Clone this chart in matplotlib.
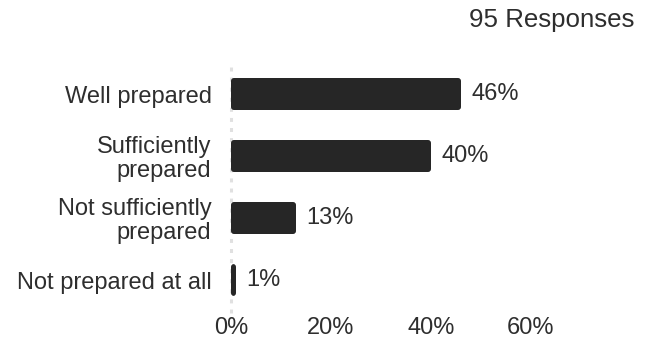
import matplotlib
matplotlib.use("Agg")
import matplotlib.pyplot as plt
from matplotlib.patches import FancyBboxPatch

categories = ["Well prepared", "Sufficiently\nprepared", "Not sufficiently\nprepared", "Not prepared at all"]
values = [46, 40, 13, 1]
xticks = [0, 20, 40, 60]
xtick_labels = ["0%", "20%", "40%", "60%"]
title = "95 Responses"

plt.rcParams['font.family'] = ['Liberation Sans', 'DejaVu Sans']
W, H = 652, 340
fig = plt.figure(figsize=(W/100, H/100), dpi=100)
ax = fig.add_axes([231/W, 1-311/H, 300/W, 248/H])

txt = "#2e2e2e"
ypos = list(range(len(categories)))
bars = ax.barh(ypos, values, height=0.516, color="#262626", zorder=3)
ax.set_ylim(len(categories)-0.5, -0.5)
ax.set_xlim(0, 60)

# rounded bar corners, built from the bar geometry
px_x = 60 / 300.0
px_y = 4.0 / 248.0
for b in bars:
    b.set_visible(False)
    p = FancyBboxPatch((b.get_x(), b.get_y()), b.get_width(), b.get_height(),
                       boxstyle=f"round,pad=0,rounding_size={3*px_x}",
                       mutation_aspect=px_y/px_x, facecolor="#262626",
                       edgecolor="none", zorder=3)
    ax.add_patch(p)

ax.set_yticks(ypos)
ax.set_yticklabels(categories, fontsize=17, color=txt, linespacing=1.1)
ax.set_xticks(xticks)
ax.set_xticklabels(xtick_labels, fontsize=17, color=txt)
ax.tick_params(axis='y', length=0, pad=14)
ax.tick_params(axis='x', length=0, pad=4)
for s in ax.spines.values():
    s.set_visible(False)
ax.axvline(0, ymin=-0.01, ymax=1.01, clip_on=False, color="#e0e0e0",
           linewidth=2.2, linestyle=(0, (1.3, 2.0)), zorder=1)
ax.bar_label(bars, labels=[f"{v}%" for v in values], padding=7.5, fontsize=17, color=txt)
fig.text(634/W, 1-27/H, title, ha='right', va='baseline', fontsize=18.6, color=txt)

fig.savefig("out.png", dpi=100)
